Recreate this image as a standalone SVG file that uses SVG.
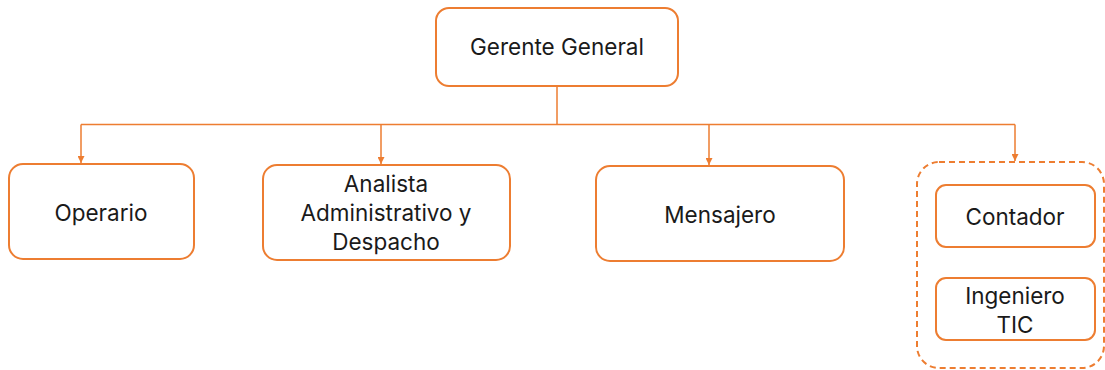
<svg xmlns="http://www.w3.org/2000/svg" width="1105" height="370" viewBox="0 0 1105 370">
<style>
.box{fill:#fff;stroke:#ED7D31;stroke-width:2}
.dash{fill:none;stroke:#ED7D31;stroke-width:2;stroke-dasharray:6 4}
.con{fill:none;stroke:#ED7D31;stroke-width:1.5}
text{font-family:Inter,"Liberation Sans",sans-serif;font-size:22.5px;fill:#1a1a1a;text-anchor:middle}
</style>
<defs>
<marker id="arr" viewBox="0 0 10 10" refX="10" refY="5" markerWidth="7" markerHeight="7" markerUnits="userSpaceOnUse" orient="auto">
<path d="M0,0 L10,5 L0,10 z" fill="#ED7D31"/>
</marker>
</defs>
<g id="connectors">
<path class="con" d="M557,86 V124.5"/>
<path class="con" d="M81,124.5 H1015"/>
<path class="con" d="M81,124.5 V163" marker-end="url(#arr)"/>
<path class="con" d="M381,124.5 V164" marker-end="url(#arr)"/>
<path class="con" d="M709,124.5 V165" marker-end="url(#arr)"/>
<path class="con" d="M1015,124.5 V161" marker-end="url(#arr)"/>
</g>
<g id="gerente"><rect class="box" x="436" y="8" width="242" height="78" rx="13"/><text x="557" y="55">Gerente General</text></g>
<g id="operario"><rect class="box" x="9" y="164" width="185" height="95" rx="14"/><text x="101" y="221">Operario</text></g>
<g id="analista"><rect class="box" x="263" y="165" width="247" height="95" rx="14"/><text x="386" y="192">Analista</text><text x="386" y="221">Administrativo y</text><text x="386" y="250">Despacho</text></g>
<g id="mensajero"><rect class="box" x="596" y="166" width="248" height="95" rx="14"/><text x="720" y="223">Mensajero</text></g>
<g id="grupo"><rect class="dash" x="917" y="162" width="187" height="206" rx="22"/></g>
<g id="contador"><rect class="box" x="936" y="185" width="159" height="62" rx="10"/><text x="1015" y="225">Contador</text></g>
<g id="ingeniero"><rect class="box" x="936" y="278" width="159" height="62" rx="10"/><text x="1015" y="304">Ingeniero</text><text x="1015" y="333">TIC</text></g>
</svg>
